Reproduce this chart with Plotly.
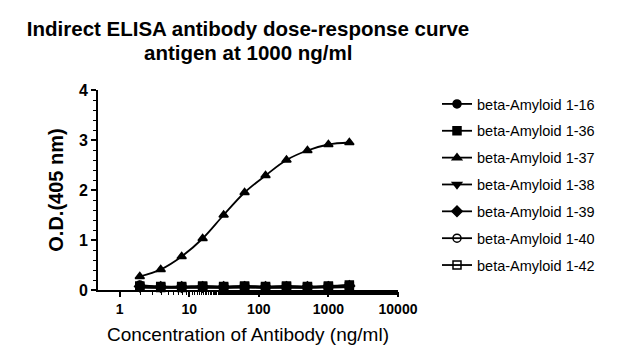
import plotly.graph_objects as go

conc = [1.95, 3.9, 7.8, 15.6, 31.25, 62.5, 125, 250, 500, 1000, 2000]
series_names = ["beta-Amyloid 1-16", "beta-Amyloid 1-36", "beta-Amyloid 1-37",
                "beta-Amyloid 1-38", "beta-Amyloid 1-39", "beta-Amyloid 1-40",
                "beta-Amyloid 1-42"]
ab_1_16 = [0.10, 0.06, 0.06, 0.06, 0.06, 0.07, 0.06, 0.06, 0.06, 0.07, 0.08]
ab_1_36 = [0.08, 0.07, 0.07, 0.08, 0.07, 0.08, 0.07, 0.08, 0.07, 0.08, 0.10]
ab_1_37 = [0.27, 0.41, 0.67, 1.03, 1.50, 1.95, 2.29, 2.60, 2.79, 2.91, 2.95]
ab_1_38 = [0.06, 0.05, 0.05, 0.05, 0.05, 0.06, 0.05, 0.05, 0.05, 0.06, 0.07]
ab_1_39 = [0.07, 0.06, 0.06, 0.06, 0.06, 0.06, 0.06, 0.06, 0.06, 0.06, 0.08]
ab_1_40 = [0.05, 0.05, 0.05, 0.05, 0.05, 0.05, 0.05, 0.05, 0.05, 0.05, 0.06]
ab_1_42 = [0.06, 0.05, 0.05, 0.06, 0.05, 0.06, 0.05, 0.06, 0.05, 0.06, 0.07]
all_values = [ab_1_16, ab_1_36, ab_1_37, ab_1_38, ab_1_39, ab_1_40, ab_1_42]
symbols = ["circle", "square", "triangle-up", "triangle-down", "diamond",
           "circle-open", "square-open"]
x_tickvals = [1, 10, 100, 1000, 10000]
x_ticktext = ["1", "10", "100", "1000", "10000"]
title_line1 = "Indirect ELISA antibody dose-response curve"
title_line2 = "antigen at 1000 ng/ml"

fig = go.Figure()
for name, vals, sym in zip(series_names, all_values, symbols):
    fig.add_trace(go.Scatter(
        x=conc, y=vals, name=name, mode="lines+markers",
        line=dict(color="black", width=1.8, shape="spline"),
        marker=dict(symbol=sym, size=8, color="black",
                    line=dict(color="black", width=1.5)),
        cliponaxis=False, legendgroup=name,
    ))

font_family = "Liberation Sans, Arial, sans-serif"
fig.update_layout(
    width=624, height=361,
    margin=dict(l=98, r=226, t=90, b=71),
    plot_bgcolor="white", paper_bgcolor="white",
    font=dict(family=font_family, color="black"),
    title=dict(text="<b>" + title_line1 + "</b>",
               x=0.5, xref="paper", xanchor="center",
               y=1 - 29 / 361, yref="container", yanchor="middle",
               font=dict(size=20.5, family=font_family, color="black")),
    annotations=[dict(text="<b>" + title_line2 + "</b>", x=0.5, xref="paper",
                      xanchor="center", y=(290 - 53) / 200, yref="paper",
                      yanchor="middle", showarrow=False,
                      font=dict(size=20.5, family=font_family, color="black"))],
    showlegend=True,
    legend=dict(x=1.13, xanchor="left", y=1.01, yanchor="top",
                font=dict(size=14.5, family=font_family, color="black"),
                tracegroupgap=5, bgcolor="rgba(0,0,0,0)", maxheight=320),
    xaxis=dict(type="log", range=[-0.31, 4.0], tickvals=x_tickvals, ticktext=x_ticktext,
               ticks="outside", ticklen=5, tickwidth=2, tickcolor="black",
               showline=True, linecolor="black", linewidth=2, showgrid=False, zeroline=False,
               tickfont=dict(size=14, weight="bold", family=font_family),
               minor=dict(ticks="outside", ticklen=3, tickwidth=1, tickcolor="black", showgrid=False),
               title=dict(text="Concentration of Antibody (ng/ml)", font=dict(size=19), standoff=12)),
    yaxis=dict(range=[0, 4], dtick=1, tick0=0,
               ticks="outside", ticklen=5, tickwidth=2, tickcolor="black",
               showline=True, linecolor="black", linewidth=2, showgrid=False, zeroline=False,
               tickfont=dict(size=16, weight="bold", family=font_family),
               minor=dict(ticks="outside", ticklen=3, tickwidth=1, dtick=0.2, tickcolor="black", showgrid=False),
               title=dict(text="O.D.(405 nm)", font=dict(size=20, weight="bold"), standoff=10)),
)

fig.write_html("out.html", config={"displayModeBar": False},
               post_script="document.body.style.margin='0px';")
